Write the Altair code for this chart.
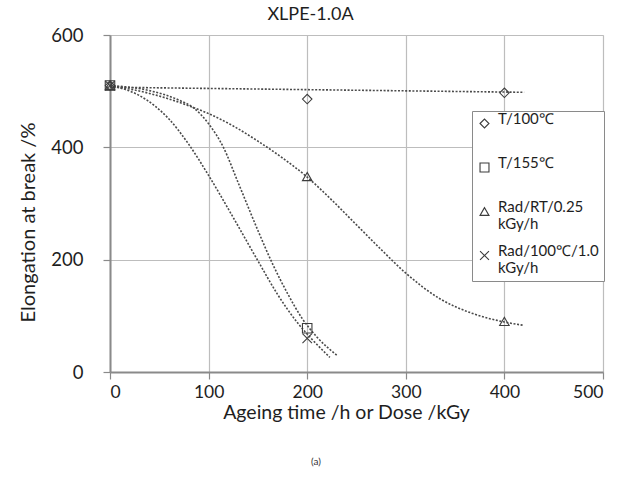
import altair as alt
import pandas as pd

FONT = "Lato"

series = ["T/100℃", "T/155℃", "Rad/RT/0.25 kGy/h", "Rad/100℃/1.0 kGy/h"]
shapes = [
    "diamond",
    "square",
    "triangle-up",
    "M-1,-1L1,1M-1,1L1,-1",
]

# measured markers
t100_x = [0, 200, 400]
t100_y = [510, 486, 497]
t155_x = [0, 200]
t155_y = [510, 78]
radrt_x = [0, 200, 400]
radrt_y = [510, 348, 90]
rad100_x = [0, 200]
rad100_y = [510, 60]

# trend curves
t100_cx = [0, 420]
t100_cy = [507, 498]
t155_cx = [0, 40, 70, 85, 100, 115, 130, 150, 165, 180, 195, 210, 230]
t155_cy = [510, 501, 484, 470, 442, 400, 337, 252, 192, 140, 95, 62, 30]
radrt_cx = [0, 40, 80, 100, 125, 150, 175, 200, 225, 250, 275, 300, 335, 368, 400, 420]
radrt_cy = [510, 496, 474, 460, 438, 411, 381, 347, 306, 262, 218, 176, 130, 104, 89, 83]
rad100_cx = [0, 30, 60, 80, 100, 125, 150, 170, 190, 205, 223]
rad100_cy = [510, 492, 450, 405, 350, 275, 198, 138, 88, 58, 26]

x_ticks = [0, 100, 200, 300, 400, 500]
y_ticks = [0, 200, 400, 600]

pts = pd.concat([
    pd.DataFrame({"series": series[0], "x": t100_x, "y": t100_y}),
    pd.DataFrame({"series": series[1], "x": t155_x, "y": t155_y}),
    pd.DataFrame({"series": series[2], "x": radrt_x, "y": radrt_y}),
    pd.DataFrame({"series": series[3], "x": rad100_x, "y": rad100_y}),
], ignore_index=True)

curves = pd.concat([
    pd.DataFrame({"series": series[0], "x": t100_cx, "y": t100_cy}),
    pd.DataFrame({"series": series[1], "x": t155_cx, "y": t155_cy}),
    pd.DataFrame({"series": series[2], "x": radrt_cx, "y": radrt_cy}),
    pd.DataFrame({"series": series[3], "x": rad100_cx, "y": rad100_cy}),
], ignore_index=True)

xscale = alt.Scale(domain=[0, 500], nice=False, zero=False)
yscale = alt.Scale(domain=[0, 600], nice=False, zero=False)

xaxis = alt.Axis(
    values=x_ticks, grid=True, gridColor="#bdbdbd", gridWidth=1.2,
    domainColor="#8a8a8a", domainWidth=2, tickColor="#8a8a8a", tickSize=7, tickWidth=1.2,
    labelFont=FONT, labelFontSize=17.5, labelColor="#1e1e1e", labelPadding=4,
    title="Ageing time /h or Dose /kGy", titleFont=FONT, titleFontSize=19.5,
    titleFontWeight="normal", titleColor="#1e1e1e",
    titleX=236, titleY=46, titleBaseline="alphabetic", titleAnchor="middle",
)
yaxis = alt.Axis(
    values=y_ticks, grid=True, gridColor="#bdbdbd", gridWidth=1.2,
    domainColor="#8a8a8a", domainWidth=2, tickColor="#8a8a8a", tickSize=7, tickWidth=1.2,
    labelFont=FONT, labelFontSize=18.5, labelColor="#1e1e1e", labelPadding=20,
    title="Elongation at break /%", titleFont=FONT, titleFontSize=20,
    titleFontWeight="normal", titleColor="#1e1e1e",
    titleX=-82, titleY=187, titleBaseline="middle", titleAnchor="middle", titleAngle=270,
)

lines = alt.Chart(curves).mark_line(
    strokeDash=[2, 1.6], strokeWidth=1.6, color="#4a4a4a", interpolate="monotone"
).encode(
    x=alt.X("x:Q", scale=xscale, axis=xaxis),
    y=alt.Y("y:Q", scale=yscale, axis=yaxis),
    detail="series:N",
)

points = alt.Chart(pts).mark_point(
    filled=False, size=90, strokeWidth=1.1, color="#3c3c3c", opacity=1
).encode(
    x=alt.X("x:Q", scale=xscale),
    y=alt.Y("y:Q", scale=yscale),
    shape=alt.Shape(
        "series:N",
        scale=alt.Scale(domain=series, range=shapes),
        legend=alt.Legend(
            title=None, orient="none", legendX=362, legendY=76,
            direction="vertical", columns=1,
            strokeColor="#8a8a8a", fillColor="white", padding=5,
            labelFont=FONT, labelFontSize=15, labelColor="#1e1e1e",
            labelBaseline="alphabetic", labelOffset=6,
            labelExpr="split(datum.label + (indexof(datum.label, ' ') < 0 ? ' ' : ''), ' ')",
            symbolSize=80, symbolStrokeWidth=1.1, symbolStrokeColor="#3c3c3c",
            rowPadding=11, labelLimit=200,
        ),
    ),
)

caption = alt.Chart(pd.DataFrame({"t": ["(a)"]})).mark_text(
    font=FONT, fontSize=10, color="#333"
).encode(text="t:N", x=alt.value(206), y=alt.value(427))

chart = alt.layer(lines, points, caption).properties(
    width=493, height=337,
    title=alt.TitleParams("XLPE-1.0A", font=FONT, fontSize=18, fontWeight="normal",
                          color="#1e1e1e", offset=2, dx=-46, anchor="middle"),
    autosize=alt.AutoSizeParams(type="none"),
    padding={"left": 110, "top": 35, "right": 31, "bottom": 105},
).configure_view(stroke="#9a9a9a", strokeWidth=1.6).configure(background="white")

chart.save("out.html", embed_options={"renderer": "svg", "actions": False})
